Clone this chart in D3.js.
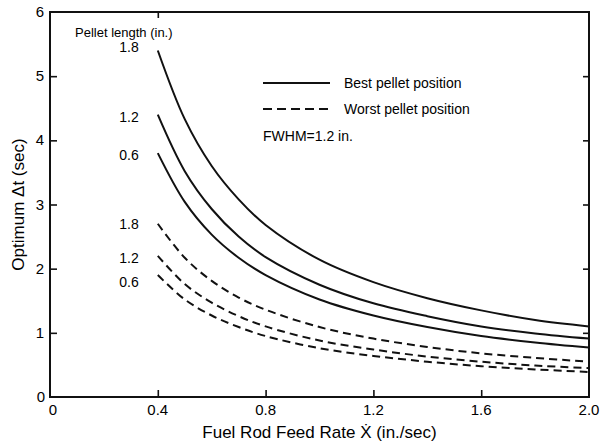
<!DOCTYPE html>
<html>
<head>
<meta charset="utf-8">
<script src="https://cdn.jsdelivr.net/npm/d3@7"></script>
<style>
  body { margin: 0; background: #fff; }
  svg text { font-family: "Liberation Sans", Arial, sans-serif; fill: #000; }
</style>
</head>
<body>
<main></main>
<script>
const feedRate = [0.4, 0.5, 0.6, 0.7, 0.8, 1.0, 1.2, 1.4, 1.6, 1.8, 2.0];

// best pellet position (solid)
const best18 = [5.4, 4.33, 3.6, 3.08, 2.68, 2.14, 1.79, 1.54, 1.35, 1.2, 1.1];
const best12 = [4.4, 3.52, 2.93, 2.5, 2.18, 1.75, 1.46, 1.26, 1.1, 0.99, 0.91];
const best06 = [3.8, 3.04, 2.53, 2.17, 1.9, 1.52, 1.27, 1.09, 0.95, 0.85, 0.77];

// worst pellet position (dashed)
const worst18 = [2.7, 2.17, 1.81, 1.55, 1.36, 1.09, 0.91, 0.78, 0.68, 0.61, 0.55];
const worst12 = [2.2, 1.76, 1.47, 1.26, 1.1, 0.88, 0.74, 0.63, 0.55, 0.49, 0.45];
const worst06 = [1.9, 1.52, 1.27, 1.09, 0.95, 0.76, 0.64, 0.55, 0.48, 0.43, 0.39];

const pelletLabels = ["1.8", "1.2", "0.6"];
const xTicks = [0, 0.4, 0.8, 1.2, 1.6, 2.0];
const yTicks = [0, 1, 2, 3, 4, 5, 6];

const width = 604, height = 446;
const margin = {left: 50, right: 15, top: 12, bottom: 49};

const svg = d3.select("main").append("svg")
  .attr("width", width)
  .attr("height", height);

const x = d3.scaleLinear().domain([0, 2]).range([margin.left, width - margin.right]);
const y = d3.scaleLinear().domain([0, 6]).range([height - margin.bottom, margin.top]);

// frame
svg.append("rect")
  .attr("x", x(0)).attr("y", y(6))
  .attr("width", x(2) - x(0)).attr("height", y(0) - y(6))
  .attr("fill", "none").attr("stroke", "#111").attr("stroke-width", 2);

// ticks pointing inwards
const yAxis = svg.append("g")
  .attr("transform", `translate(${x(0)},0)`)
  .call(d3.axisRight(y).tickValues(yTicks.filter(d => d > 0 && d < 6)).tickSize(7).tickFormat(""));
const yAxisR = svg.append("g")
  .attr("transform", `translate(${x(2)},0)`)
  .call(d3.axisLeft(y).tickValues(yTicks.filter(d => d > 0 && d < 6)).tickSize(6).tickFormat(""));
const xAxis = svg.append("g")
  .attr("transform", `translate(0,${y(0)})`)
  .call(d3.axisTop(x).tickValues(xTicks.filter(d => d > 0 && d < 2)).tickSize(7).tickFormat(""));
const xAxisT = svg.append("g")
  .attr("transform", `translate(0,${y(6)})`)
  .call(d3.axisBottom(x).tickValues([0.4]).tickSize(6).tickFormat(""));
[yAxis, yAxisR, xAxis, xAxisT].forEach(a => {
  a.select(".domain").remove();
  a.selectAll("line").attr("stroke", "#111").attr("stroke-width", 1.6);
});

// tick labels
svg.append("g").selectAll("text")
  .data(yTicks)
  .join("text")
    .attr("x", d => d == 0 ? x(0) - 5 : x(0) - 6)
    .attr("y", d => y(d) + 5)
    .attr("text-anchor", "end")
    .style("font-size", "15px")
    .text(d => d);

svg.append("g").selectAll("text")
  .data(xTicks)
  .join("text")
    .attr("x", d => d == 0 ? x(d) + 3 : x(d))
    .attr("y", y(0) + 18)
    .attr("text-anchor", "middle")
    .style("font-size", "15px")
    .text(d => d == 0 ? "0" : d.toFixed(1));

// axis titles
svg.append("text")
  .attr("x", (x(0) + x(2)) / 2)
  .attr("y", 438)
  .attr("text-anchor", "middle")
  .style("font-size", "17px")
  .text("Fuel Rod Feed Rate X\u0307 (in./sec)");

svg.append("text")
  .attr("transform", `translate(24,${(y(0) + y(6)) / 2}) rotate(-90)`)
  .attr("text-anchor", "middle")
  .style("font-size", "17px")
  .text("Optimum \u0394t (sec)");

// curves
const line = d3.line()
  .x((d, i) => x(feedRate[i]))
  .y(d => y(d))
  .curve(d3.curveCatmullRom.alpha(0.5));

const bestSeries = [best18, best12, best06];
const worstSeries = [worst18, worst12, worst06];

svg.append("g").selectAll("path")
  .data(bestSeries)
  .join("path")
    .attr("d", line)
    .attr("fill", "none")
    .attr("stroke", "#111")
    .attr("stroke-width", 2);

svg.append("g").selectAll("path")
  .data(worstSeries)
  .join("path")
    .attr("d", line)
    .attr("fill", "none")
    .attr("stroke", "#111")
    .attr("stroke-width", 2)
    .attr("stroke-dasharray", "8,5");

// pellet length labels at curve starts
svg.append("text")
  .attr("x", 75).attr("y", 37)
  .style("font-size", "13px")
  .text("Pellet length (in.)");

const bestOffsets = [-2, 4, 4];
svg.append("g").selectAll("text")
  .data(bestSeries)
  .join("text")
    .attr("x", x(0.4) - 19)
    .attr("y", (d, i) => y(d[0]) + bestOffsets[i] + 3)
    .attr("text-anchor", "end")
    .style("font-size", "14px")
    .text((d, i) => pelletLabels[i]);

const worstOffsets = [2, 4, 9];
svg.append("g").selectAll("text")
  .data(worstSeries)
  .join("text")
    .attr("x", x(0.4) - 19)
    .attr("y", (d, i) => y(d[0]) + worstOffsets[i] + 3)
    .attr("text-anchor", "end")
    .style("font-size", "14px")
    .text((d, i) => pelletLabels[i]);

// legend
const legend = svg.append("g");
legend.append("line")
  .attr("x1", 263).attr("x2", 330).attr("y1", 83).attr("y2", 83)
  .attr("stroke", "#111").attr("stroke-width", 2);
legend.append("text")
  .attr("x", 344).attr("y", 88)
  .style("font-size", "14px")
  .text("Best pellet position");
legend.append("line")
  .attr("x1", 263).attr("x2", 330).attr("y1", 109).attr("y2", 109)
  .attr("stroke", "#111").attr("stroke-width", 2)
  .attr("stroke-dasharray", "9,5");
legend.append("text")
  .attr("x", 344).attr("y", 114)
  .style("font-size", "14px")
  .text("Worst pellet position");
legend.append("text")
  .attr("x", 263).attr("y", 141)
  .style("font-size", "14px")
  .text("FWHM=1.2 in.");
</script>
</body>
</html>
